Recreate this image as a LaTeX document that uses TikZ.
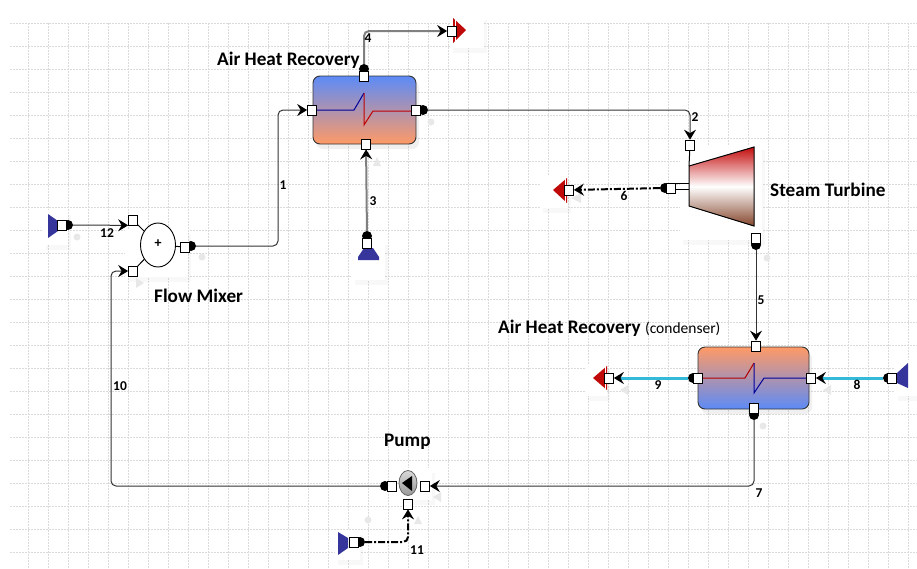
\documentclass[tikz,border=0pt]{standalone}
\usepackage{xcolor}
\usepackage{fontspec}
\setmainfont{Carlito}
\usetikzlibrary{arrows.meta,shadows,shapes.geometric}

\definecolor{coldblue}{HTML}{5C8BF7}
\definecolor{hotorange}{HTML}{FF9A66}
\definecolor{sinkred}{HTML}{C00A0A}
\definecolor{sourceblue}{HTML}{35359B}
\definecolor{coolcyan}{HTML}{35B9D9}
\definecolor{turbinered}{HTML}{C40E0E}
\definecolor{turbinebrown}{HTML}{84452C}

\tikzset{
  port/.style={draw, fill=white, inner sep=0pt, minimum width=9pt, minimum height=10pt, line width=0.7pt},
  ball/.style={fill=black, circle, inner sep=0pt, minimum size=10pt},
  stream/.style={black!80, line width=1pt, rounded corners=5pt, -{Stealth[length=10pt, width=12pt, inset=3.5pt, black]}},
  airstream/.style={stream, black!50, line width=2pt},
  waterstream/.style={stream, coolcyan, line width=3pt},
  dashstream/.style={stream, black, line width=2pt, dash pattern=on 7pt off 2pt on 2pt off 2pt},
  stub/.style={black, line width=1pt},
  exchanger/.style={draw=black!80, rounded corners=7pt, minimum width=103pt, minimum height=68pt, line width=0.9pt, drop shadow={shadow xshift=3pt, shadow yshift=-5pt, opacity=0.12}},
  panel/.style={fill=white, drop shadow={shadow xshift=3pt, shadow yshift=-5pt, opacity=0.06}},
  tag/.style={inner sep=0pt, font=\bfseries\fontsize{19.2}{21}\selectfont},
  number/.style={inner sep=0pt, font=\bfseries\fontsize{13.5}{15}\selectfont},
  griddot/.style={black!14, line width=0.5pt, dash pattern=on 1.5pt off 1.5pt},
  ghost/.style={fill=black!9}
}

\begin{document}
\begin{tikzpicture}[x=1pt, y=-1pt]
    \useasboundingbox (0,0) rectangle (917,568);

    \foreach \gx in {28,48,...,908} {
      \draw [griddot] (\gx,23) -- (\gx,568);
    }
    \foreach \gy in {23,46,...,552} {
      \draw [griddot] (10,\gy) -- (917,\gy);
    }

    \fill [panel] (450,15) rectangle (484,48);
    \fill [panel] (43,210) rectangle (68,245);
    \fill [panel] (125,230) rectangle (188,277);
    \fill [panel] (352,240) rectangle (385,280);
    \fill [panel] (540,175) rectangle (568,208);
    \fill [panel] (680,145) rectangle (762,240);
    \fill [panel] (585,364) rectangle (607,396);
    \fill [panel] (895,360) rectangle (917,396);
    \fill [panel] (400,468) rectangle (432,500);
    \fill [panel] (335,530) rectangle (360,560);

    \foreach \dx/\dy in {77/237, 202/257, 431/122, 767/258, 763/426, 368/520} {
      \fill [ghost] (\dx,\dy) circle (3.5);
    }
    \fill [ghost] (377,157) -- (373,166) -- (381,166) -- cycle;
    \fill [ghost] (571,198) -- (581,193) -- (581,203) -- cycle;
    \fill [ghost] (620,390) -- (628,385) -- (628,395) -- cycle;
    \fill [ghost] (823,390) -- (831,385) -- (831,395) -- cycle;
    \fill [ghost] (433,497) -- (441,492) -- (441,502) -- cycle;
    \fill [ghost] (418,516) -- (414,524) -- (422,524) -- cycle;
    \fill [ghost] (144,283) -- (136,278) -- (136,288) -- cycle;

    \coordinate (Bend1A) at (278,246);
    \coordinate (Bend1B) at (278,110);
    \coordinate (Bend2) at (690,110);
    \coordinate (Bend4) at (364,31);
    \coordinate (Bend7) at (754,486);
    \coordinate (Bend10A) at (111,486);
    \coordinate (Bend10B) at (111,271);
    \coordinate (Bend11) at (408,542);

    \node [exchanger, top color=coldblue, bottom color=hotorange] (AirHX) at (364.5,110) {};
    \node [exchanger, top color=hotorange, bottom color=coldblue, minimum width=111pt, minimum height=62pt] (CondHX) at (753.5,378) {};

    \draw [blue!60!black, line width=1pt] (316,110) -- (354,110) -- (364,93);
    \draw [red!75!black, line width=1pt] (364,93) -- (364,125) -- (373,111) -- (413,111);
    \draw [red!70!black, line width=1pt] (702,378) -- (745,378) -- (754,363);
    \draw [blue!60!black, line width=1pt] (754,363) -- (754,393) -- (764,378) -- (807,378);

    \shade [top color=turbinered, bottom color=turbinebrown, middle color=white] (689,166) -- (754,147) -- (754,226) -- (689,206) -- cycle;
    \draw [line width=1pt] (689,166) -- (754,147) -- (754,226) -- (689,206) -- cycle;

    \node [draw, ellipse, fill=white, minimum width=35pt, minimum height=44pt, inner sep=0pt, line width=0.9pt] (Mixer) at (158,245) {};
    \node [inner sep=0pt, font=\bfseries\fontsize{14}{15}\selectfont] (MixerPlus) at (158,244) {+};

    \node [draw=black!60, ellipse, top color=black!15, bottom color=black!40, minimum width=18pt, minimum height=25pt, inner sep=0pt, line width=0.8pt] (Pump) at (408,483) {};
    \fill (402,483) -- (412,476) -- (412,491) -- cycle;

    \node [port] (MixerIn1) at (133,220) {};
    \node [port] (MixerIn2) at (133,271) {};
    \node [ball] (MixerBall) at (191,246) {};
    \node [port] (MixerOut) at (185,247) {};
    \draw [stub] (MixerIn1) to (Mixer);
    \draw [stub] (MixerIn2) to (Mixer);
    \draw [stub] (Mixer) to (MixerOut);

    \node [port] (AirIn) at (312,110) {};
    \node [ball] (AirBall) at (423,110) {};
    \node [port] (AirOut) at (416,110) {};
    \node [ball] (AirTopBall) at (364,69) {};
    \node [port] (AirTop) at (364,76) {};
    \node [port] (AirBottom) at (366,144) {};

    \node [port] (TurbineIn) at (690,145) {};
    \node [ball] (TurbineSideBall) at (665,188) {};
    \node [port] (TurbineSide) at (671,188) {};
    \node [ball] (TurbineBall) at (756,245) {};
    \node [port] (TurbineOut) at (756,238) {};
    \draw [stub] (TurbineIn) to (689,166);
    \draw [stub, line width=0.7pt] (675,183) to (689,183);
    \draw [stub, line width=0.7pt] (675,189) to (689,189);

    \node [port] (CondTop) at (756,346) {};
    \node [ball] (CondLeftBall) at (693,378) {};
    \node [port] (CondLeft) at (698,378) {};
    \node [port] (CondRight) at (811,378) {};
    \node [ball] (CondBottomBall) at (754,415) {};
    \node [port] (CondBottom) at (754,408) {};

    \node [port] (PumpIn) at (425,486) {};
    \node [ball] (PumpBall) at (385,486) {};
    \node [port] (PumpOut) at (392,486) {};
    \node [port] (PumpFeed) at (408,504) {};

    \fill [sourceblue] (48,214) -- (58,221) -- (58,231) -- (48,238) -- cycle;
    \node [ball] (Source12Ball) at (68,225) {};
    \node [port] (Source12) at (62,225) {};

    \fill [sourceblue] (358,260) -- (358,257) -- (364,248) -- (373,248) -- (379,257) -- (379,260) -- cycle;
    \node [ball] (Source3Ball) at (367,236) {};
    \node [port] (Source3) at (367,243) {};

    \fill [sourceblue] (908,363) -- (897,373) -- (897,383) -- (908,388) -- cycle;
    \node [ball] (Source8Ball) at (888,378) {};
    \node [port] (Source8) at (892,378) {};

    \fill [sourceblue] (338,532) -- (348,538) -- (348,548) -- (338,555) -- cycle;
    \node [ball] (Source11Ball) at (360,542) {};
    \node [port] (Source11) at (354,542) {};

    \fill [sinkred] (466,30) -- (453,18) -- (453,43) -- cycle;
    \draw [white, line width=0.8pt] (455,18) -- (455,43);
    \node [port] (Sink4) at (452,31) {};

    \fill [sinkred] (553,190) -- (567,178) -- (567,203) -- cycle;
    \draw [white, line width=0.8pt] (565,178) -- (565,203);
    \node [port] (Sink6) at (569,190) {};

    \fill [sinkred] (593,378) -- (607,366) -- (607,390) -- cycle;
    \draw [white, line width=0.8pt] (605,366) -- (605,390);
    \node [port] (Sink9) at (609,378) {};

    \draw [stream] (MixerBall) to (Bend1A) to (Bend1B) to (AirIn);
    \draw [stream] (AirBall) to (Bend2) to (TurbineIn);
    \draw [airstream] (Source3Ball) to (AirBottom);
    \draw [airstream] (AirTopBall) to (Bend4) to (Sink4);
    \draw [stream] (TurbineBall) to (CondTop);
    \draw [dashstream] (TurbineSideBall) to (Sink6);
    \draw [stream] (CondBottomBall) to (Bend7) to (PumpIn);
    \draw [waterstream] (Source8Ball) to (CondRight);
    \draw [waterstream] (CondLeftBall) to (Sink9);
    \draw [stream] (PumpBall) to (Bend10A) to (Bend10B) to (MixerIn2);
    \draw [dashstream] (Source11Ball) to (Bend11) to (PumpFeed);
    \draw [stream] (Source12Ball) to (MixerIn1.south west);

    \node [tag, anchor=west] (AirLabel) at (217,60) {Air Heat Recovery};
    \node [tag, anchor=west] (MixerLabel) at (154,296) {Flow Mixer};
    \node [tag, anchor=west] (TurbineLabel) at (770,190) {Steam Turbine};
    \node [tag, anchor=west] (CondLabel) at (498,328) {Air Heat Recovery \fontsize{15.5}{16}\mdseries\selectfont (condenser)};
    \node [tag, anchor=west] (PumpLabel) at (384,442) {Pump};

    \node [number] (N1) at (283,185) {1};
    \node [number] (N2) at (695,117) {2};
    \node [number] (N3) at (373,201) {3};
    \node [number] (N4) at (368,38) {4};
    \node [number] (N5) at (761,300) {5};
    \node [number] (N6) at (624,196) {6};
    \node [number] (N7) at (759,493) {7};
    \node [number] (N8) at (857,385) {8};
    \node [number] (N9) at (658,385) {9};
    \node [number] (N10) at (120,386) {10};
    \node [number] (N11) at (417,550) {11};
    \node [number] (N12) at (107,233) {12};
  \end{tikzpicture}
\end{document}
